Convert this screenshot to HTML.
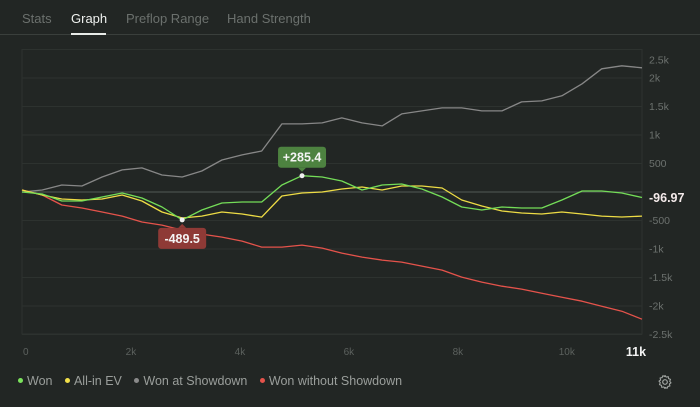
<!DOCTYPE html>
<html><head><meta charset="utf-8"><style>
html,body{margin:0;padding:0;background:#222624;}
body{width:700px;height:407px;overflow:hidden;position:relative;font-family:"Liberation Sans",Arial,sans-serif;}
.tab{position:absolute;top:11px;font-size:13px;color:#6b706d;}
.tab.active{color:#eef0ee;}
#legend{position:absolute;top:374px;left:18px;font-size:12.5px;color:#9a9e9b;white-space:nowrap;}
#legend span{margin-right:9px;}
#legend i{display:inline-block;width:5px;height:5px;border-radius:50%;margin-right:4px;vertical-align:middle;position:relative;top:-1px;}
</style></head><body>
<div class="tab" style="left:22px">Stats</div>
<div class="tab active" style="left:71px">Graph</div>
<div class="tab" style="left:126px">Preflop Range</div>
<div class="tab" style="left:227px">Hand Strength</div>
<div style="position:absolute;left:0;top:34px;width:700px;height:1px;background:#3a3f3c"></div>
<div style="position:absolute;left:71px;top:33px;width:35px;height:2px;background:#e8ebe8"></div>
<svg id="chart" width="700" height="407" style="position:absolute;left:0;top:0"></svg>
<div id="legend">
<span><i style="background:#7be35c"></i>Won</span>
<span><i style="background:#f2e04a"></i>All-in EV</span>
<span><i style="background:#8a8a8a"></i>Won at Showdown</span>
<span><i style="background:#e5534b"></i>Won without Showdown</span>
</div>
<svg width="16" height="16" viewBox="0 0 16 16" style="position:absolute;left:657px;top:374px">
<circle cx="8" cy="8" r="2.3" fill="none" stroke="#a0a4a1" stroke-width="1.2"/>
<path d="M8 1.5l1.2 1.6 2-.5.4 2 1.9.8-.8 1.9 1.3 1.5-1.6 1.2.5 2-2 .4-.8 1.9-1.9-.8L8 14.5l-1.2-1.6-2 .5-.4-2-1.9-.8.8-1.9L2 7.2l1.6-1.2-.5-2 2-.4.8-1.9 1.9.8z" fill="none" stroke="#a0a4a1" stroke-width="1.1" stroke-linejoin="round"/>
</svg>
<script>
const hands=[0,370,730,1100,1470,1840,2200,2570,2940,3300,3670,4040,4400,4770,5140,5510,5870,6240,6610,6970,7340,7710,8070,8440,8810,9170,9540,9910,10280,10640,11010,11380];
const wonValues=[0,-35,-158,-158,-88,-18,-105,-264,-489.5,-316,-193,-176,-176,123,285.4,264,193,35,123,141,53,-88,-264,-316,-264,-281,-281,-141,18,18,-18,-96.97];
const evValues=[35,-53,-123,-141,-123,-53,-158,-351,-457,-422,-351,-386,-440,-70,-18,0,53,88,35,105,105,70,-141,-246,-334,-369,-386,-351,-386,-422,-439,-422];
const showdownValues=[0,35,123,105,264,387,422,299,264,369,562,650,720,1195,1195,1212,1300,1212,1160,1370,1423,1476,1476,1423,1423,1581,1599,1687,1898,2161,2214,2179];
const nonShowdownValues=[35,-53,-228,-281,-351,-422,-527,-580,-668,-738,-791,-861,-967,-967,-931,-984,-1072,-1142,-1195,-1230,-1300,-1370,-1493,-1581,-1652,-1704,-1775,-1845,-1915,-2003,-2091,-2232];
const yTicks=[2500,2000,1500,1000,500,-500,-1000,-1500,-2000,-2500];
const yTickLabels=["2.5k","2k","1.5k","1k","500","-500","-1k","-1.5k","-2k","-2.5k"];
const xTicks=[0,2000,4000,6000,8000,10000];
const xTickLabels=["0","2k","4k","6k","8k","10k"];

const svg=document.getElementById('chart');
const NS='http://www.w3.org/2000/svg';
const X0=22,X1=642,Y0=49.5,Y1=334,HMAX=11380,VMAX=2500;
const xs=h=>X0+(h/HMAX)*(X1-X0);
const ys=v=>192-(v/VMAX)*(192-Y0);
function mk(tag,attrs){const e=document.createElementNS(NS,tag);for(const k in attrs)e.setAttribute(k,attrs[k]);svg.appendChild(e);return e;}

const frame=mk('rect',{x:X0,y:Y0,width:X1-X0,height:Y1-Y0,fill:'none',stroke:'#2d322f','stroke-width':1});


yTicks.forEach((t,i)=>{
  const g=mk('line',{x1:X0,x2:X1,y1:ys(t),y2:ys(t),stroke:'#2d322f','stroke-width':1});
  
  
  const ty=Math.max(ys(t),60);
  const l=mk('text',{x:649,y:ty+3.5,fill:'#6c716e','font-size':10.5,'font-family':'Liberation Sans, sans-serif'});
  l.textContent=yTickLabels[i];
  
  
});
const zl=mk('line',{x1:X0,x2:X1,y1:ys(0),y2:ys(0),stroke:'#4a4f4c','stroke-width':1.2});


xTicks.forEach((t,i)=>{
  const l=mk('text',{x:xs(t)+(i==0?1:0),y:355,fill:'#5c615e','font-size':10,'text-anchor':i==0?'start':'middle','font-family':'Liberation Sans, sans-serif'});
  l.textContent=xTickLabels[i];
  
  
});
const cur=mk('text',{x:636,y:356,fill:'#f2f2f2','font-size':12.5,'font-weight':'bold','text-anchor':'middle','font-family':'Liberation Sans, sans-serif'});
cur.textContent='11k';



function line(vals,color,name){
  const d=vals.map((v,i)=>(i?'L':'M')+xs(hands[i]).toFixed(1)+' '+ys(v).toFixed(1)).join(' ');
  const p=mk('path',{d:d,fill:'none',stroke:color,'stroke-width':1.3,'stroke-linejoin':'round'});
  
  
}
line(showdownValues,'#878787','won-at-showdown-line');
line(nonShowdownValues,'#e5534b','won-without-showdown-line');
line(evValues,'#eedc45','allin-ev-line');
line(wonValues,'#74dd58','won-line');

const last=wonValues[wonValues.length-1];
const fv=mk('text',{x:649,y:ys(last)+4.5,fill:'#f4eaea','font-size':12.5,'font-weight':'bold','font-family':'Liberation Sans, sans-serif'});
fv.textContent=last.toFixed(2);



function badge(idx,color,above,name){
  const v=wonValues[idx],x=xs(hands[idx]),y=ys(v);
  const txt=(v>0?'+':'')+v.toFixed(1);
  const w=48,h=21;
  const by=above?y-h-8:y+8;
  const r=mk('rect',{x:x-w/2,y:by,width:w,height:h,rx:3,fill:color});
  
  
  const tri=mk('path',{d:above?`M${x-4} ${by+h}L${x+4} ${by+h}L${x} ${by+h+4}Z`:`M${x-4} ${by}L${x+4} ${by}L${x} ${by-4}Z`,fill:color});
  
  
  const t=mk('text',{x:x,y:by+15,fill:'#f4f4f4','font-size':12.5,'font-weight':'bold','text-anchor':'middle','font-family':'Liberation Sans, sans-serif'});
  t.textContent=txt;
  
  
  const c=mk('circle',{cx:x,cy:y,r:2.5,fill:'#f0f0f0'});
  
  
}
let maxI=0,minI=0;
wonValues.forEach((v,i)=>{if(v>wonValues[maxI])maxI=i;if(v<wonValues[minI])minI=i;});
badge(maxI,'#4d8240',true,'max-won');
badge(minI,'#8e3a36',false,'min-won');
</script>
</body></html>
